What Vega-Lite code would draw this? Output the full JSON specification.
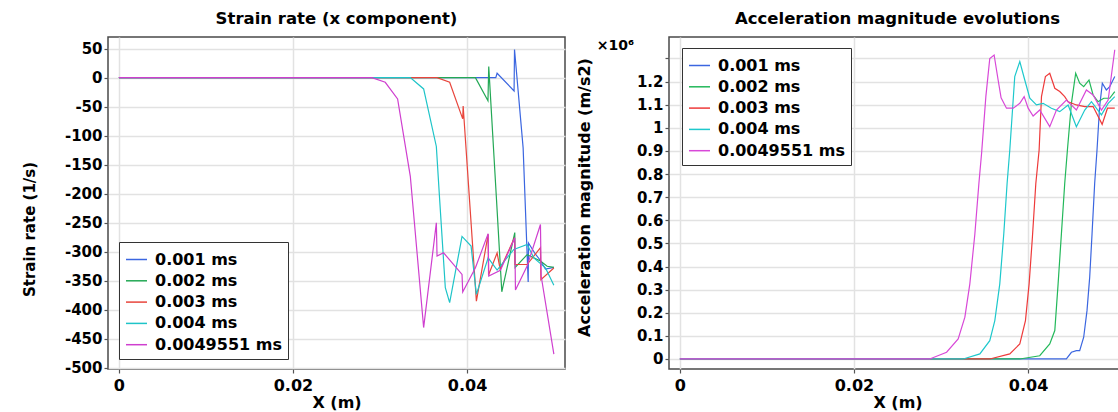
{
  "$schema": "https://vega.github.io/schema/vega-lite/v6.json",
  "background": "white",
  "padding": {"left": 21, "top": 9, "right": 0, "bottom": 0},
  "config": {
    "font": "DejaVu Sans",
    "view": {"stroke": "#4a4a4a", "strokeWidth": 1.5},
    "axis": {
      "labelFont": "DejaVu Sans", "labelFontWeight": "bold", "labelColor": "black",
      "titleFont": "DejaVu Sans", "titleFontWeight": "bold", "titleColor": "black",
      "gridColor": "#e2e2e2", "gridWidth": 1.5, "domain": false,
      "tickColor": "#555555", "tickSize": 4, "tickWidth": 1.2, "labelOverlap": false
    },
    "axisX": {"labelFontSize": 16, "labelPadding": 4, "titleFontSize": 16},
    "axisY": {"labelFontSize": 15, "labelPadding": 2},
    "title": {"font": "DejaVu Sans", "fontSize": 16.5, "fontWeight": "bold", "color": "black", "offset": 10, "baseline": "alphabetic"},
    "legend": {
      "labelFont": "DejaVu Sans", "labelFontWeight": "bold", "labelFontSize": 16, "labelColor": "black",
      "symbolType": "stroke", "symbolSize": 441, "symbolStrokeWidth": 1.5, "labelOffset": 7,
      "strokeColor": "#333333", "fillColor": "white", "padding": 6, "rowPadding": 1.3,
      "orient": "none", "title": null
    }
  },
  "datasets": {
    "strain": [
      {"t": "0.001 ms", "x": 0, "y": 0}, {"t": "0.001 ms", "x": 0.0433, "y": 0}, {"t": "0.001 ms", "x": 0.04345, "y": 7.5},
      {"t": "0.001 ms", "x": 0.0454, "y": -23}, {"t": "0.001 ms", "x": 0.04545, "y": 48.5}, {"t": "0.001 ms", "x": 0.04644, "y": -121},
      {"t": "0.001 ms", "x": 0.04702, "y": -352}, {"t": "0.001 ms", "x": 0.04706, "y": -285}, {"t": "0.001 ms", "x": 0.0478, "y": -303},
      {"t": "0.001 ms", "x": 0.04843, "y": -315}, {"t": "0.001 ms", "x": 0.049, "y": -330}, {"t": "0.001 ms", "x": 0.04997, "y": -327},

      {"t": "0.002 ms", "x": 0, "y": 0}, {"t": "0.002 ms", "x": 0.04096, "y": 0}, {"t": "0.002 ms", "x": 0.0424, "y": -40},
      {"t": "0.002 ms", "x": 0.04249, "y": 19}, {"t": "0.002 ms", "x": 0.04338, "y": -210}, {"t": "0.002 ms", "x": 0.04399, "y": -369},
      {"t": "0.002 ms", "x": 0.04548, "y": -267}, {"t": "0.002 ms", "x": 0.04552, "y": -327}, {"t": "0.002 ms", "x": 0.0469, "y": -305},
      {"t": "0.002 ms", "x": 0.04843, "y": -316}, {"t": "0.002 ms", "x": 0.0492, "y": -325}, {"t": "0.002 ms", "x": 0.04997, "y": -327},

      {"t": "0.003 ms", "x": 0, "y": 0}, {"t": "0.003 ms", "x": 0.03655, "y": 0}, {"t": "0.003 ms", "x": 0.038, "y": -8},
      {"t": "0.003 ms", "x": 0.0395, "y": -71}, {"t": "0.003 ms", "x": 0.03955, "y": -49}, {"t": "0.003 ms", "x": 0.04107, "y": -385},
      {"t": "0.003 ms", "x": 0.04242, "y": -270}, {"t": "0.003 ms", "x": 0.04247, "y": -340}, {"t": "0.003 ms", "x": 0.04345, "y": -302},
      {"t": "0.003 ms", "x": 0.0438, "y": -330}, {"t": "0.003 ms", "x": 0.04545, "y": -276}, {"t": "0.003 ms", "x": 0.0455, "y": -322},
      {"t": "0.003 ms", "x": 0.0469, "y": -322}, {"t": "0.003 ms", "x": 0.04843, "y": -293}, {"t": "0.003 ms", "x": 0.04848, "y": -348},
      {"t": "0.003 ms", "x": 0.04997, "y": -328},

      {"t": "0.004 ms", "x": 0, "y": 0}, {"t": "0.004 ms", "x": 0.03348, "y": 0}, {"t": "0.004 ms", "x": 0.03501, "y": -19.5},
      {"t": "0.004 ms", "x": 0.03647, "y": -118.6}, {"t": "0.004 ms", "x": 0.03685, "y": -210}, {"t": "0.004 ms", "x": 0.0375, "y": -362},
      {"t": "0.004 ms", "x": 0.038, "y": -387.6}, {"t": "0.004 ms", "x": 0.03942, "y": -273.6}, {"t": "0.004 ms", "x": 0.04046, "y": -290.3},
      {"t": "0.004 ms", "x": 0.04107, "y": -373.4}, {"t": "0.004 ms", "x": 0.04242, "y": -310.6}, {"t": "0.004 ms", "x": 0.04345, "y": -331.6},
      {"t": "0.004 ms", "x": 0.04537, "y": -296}, {"t": "0.004 ms", "x": 0.0469, "y": -287.5}, {"t": "0.004 ms", "x": 0.04767, "y": -310.6},
      {"t": "0.004 ms", "x": 0.049, "y": -327.6}, {"t": "0.004 ms", "x": 0.04997, "y": -357.9},

      {"t": "0.0049551 ms", "x": 0, "y": 0}, {"t": "0.0049551 ms", "x": 0.02907, "y": 0}, {"t": "0.0049551 ms", "x": 0.0306, "y": -8},
      {"t": "0.0049551 ms", "x": 0.03202, "y": -36.7}, {"t": "0.0049551 ms", "x": 0.03348, "y": -170}, {"t": "0.0049551 ms", "x": 0.03501, "y": -430.6},
      {"t": "0.0049551 ms", "x": 0.03647, "y": -250.2}, {"t": "0.0049551 ms", "x": 0.03655, "y": -307.5}, {"t": "0.0049551 ms", "x": 0.0373, "y": -301.8},
      {"t": "0.0049551 ms", "x": 0.03942, "y": -339}, {"t": "0.0049551 ms", "x": 0.0395, "y": -369.4}, {"t": "0.0049551 ms", "x": 0.04096, "y": -327.6},
      {"t": "0.0049551 ms", "x": 0.04242, "y": -268.8}, {"t": "0.0049551 ms", "x": 0.04249, "y": -341.8}, {"t": "0.0049551 ms", "x": 0.04383, "y": -332},
      {"t": "0.0049551 ms", "x": 0.04548, "y": -276}, {"t": "0.0049551 ms", "x": 0.04556, "y": -366}, {"t": "0.0049551 ms", "x": 0.0469, "y": -324.7},
      {"t": "0.0049551 ms", "x": 0.04843, "y": -253.1}, {"t": "0.0049551 ms", "x": 0.04851, "y": -341.8}, {"t": "0.0049551 ms", "x": 0.04997, "y": -476.5}
    ],
    "accel": [
      {"t": "0.001 ms", "x": 0, "y": 0}, {"t": "0.001 ms", "x": 0.0444, "y": 0}, {"t": "0.001 ms", "x": 0.04498, "y": 0.029},
      {"t": "0.001 ms", "x": 0.04555, "y": 0.036}, {"t": "0.001 ms", "x": 0.04593, "y": 0.036}, {"t": "0.001 ms", "x": 0.04639, "y": 0.094},
      {"t": "0.001 ms", "x": 0.04677, "y": 0.209}, {"t": "0.001 ms", "x": 0.04708, "y": 0.354}, {"t": "0.001 ms", "x": 0.04735, "y": 0.542},
      {"t": "0.001 ms", "x": 0.04765, "y": 0.759}, {"t": "0.001 ms", "x": 0.04792, "y": 0.904}, {"t": "0.001 ms", "x": 0.04822, "y": 1.092},
      {"t": "0.001 ms", "x": 0.04853, "y": 1.193}, {"t": "0.001 ms", "x": 0.04899, "y": 1.164}, {"t": "0.001 ms", "x": 0.04938, "y": 1.178},
      {"t": "0.001 ms", "x": 0.04996, "y": 1.222},

      {"t": "0.002 ms", "x": 0, "y": 0}, {"t": "0.002 ms", "x": 0.03905, "y": 0}, {"t": "0.002 ms", "x": 0.04134, "y": 0.014},
      {"t": "0.002 ms", "x": 0.04249, "y": 0.065}, {"t": "0.002 ms", "x": 0.04307, "y": 0.123}, {"t": "0.002 ms", "x": 0.04345, "y": 0.325},
      {"t": "0.002 ms", "x": 0.04383, "y": 0.542}, {"t": "0.002 ms", "x": 0.04421, "y": 0.759}, {"t": "0.002 ms", "x": 0.04452, "y": 0.904},
      {"t": "0.002 ms", "x": 0.04498, "y": 1.106}, {"t": "0.002 ms", "x": 0.04547, "y": 1.236}, {"t": "0.002 ms", "x": 0.04593, "y": 1.193},
      {"t": "0.002 ms", "x": 0.04639, "y": 1.178}, {"t": "0.002 ms", "x": 0.047, "y": 1.207}, {"t": "0.002 ms", "x": 0.04747, "y": 1.142},
      {"t": "0.002 ms", "x": 0.04804, "y": 1.113}, {"t": "0.002 ms", "x": 0.04869, "y": 1.128}, {"t": "0.002 ms", "x": 0.04938, "y": 1.128},
      {"t": "0.002 ms", "x": 0.04996, "y": 1.157},

      {"t": "0.003 ms", "x": 0, "y": 0}, {"t": "0.003 ms", "x": 0.03561, "y": 0}, {"t": "0.003 ms", "x": 0.0379, "y": 0.022},
      {"t": "0.003 ms", "x": 0.03905, "y": 0.065}, {"t": "0.003 ms", "x": 0.0397, "y": 0.166}, {"t": "0.003 ms", "x": 0.04012, "y": 0.325},
      {"t": "0.003 ms", "x": 0.0405, "y": 0.528}, {"t": "0.003 ms", "x": 0.04089, "y": 0.759}, {"t": "0.003 ms", "x": 0.04127, "y": 0.904},
      {"t": "0.003 ms", "x": 0.04154, "y": 1.135}, {"t": "0.003 ms", "x": 0.04199, "y": 1.222}, {"t": "0.003 ms", "x": 0.04249, "y": 1.236},
      {"t": "0.003 ms", "x": 0.04307, "y": 1.171}, {"t": "0.003 ms", "x": 0.04364, "y": 1.157}, {"t": "0.003 ms", "x": 0.04421, "y": 1.135},
      {"t": "0.003 ms", "x": 0.0446, "y": 1.113}, {"t": "0.003 ms", "x": 0.04555, "y": 1.099}, {"t": "0.003 ms", "x": 0.04651, "y": 1.092},
      {"t": "0.003 ms", "x": 0.04747, "y": 1.092}, {"t": "0.003 ms", "x": 0.04851, "y": 1.015}, {"t": "0.003 ms", "x": 0.04912, "y": 1.085},
      {"t": "0.003 ms", "x": 0.04996, "y": 1.085},

      {"t": "0.004 ms", "x": 0, "y": 0}, {"t": "0.004 ms", "x": 0.03255, "y": 0}, {"t": "0.004 ms", "x": 0.03446, "y": 0.022},
      {"t": "0.004 ms", "x": 0.0356, "y": 0.079}, {"t": "0.004 ms", "x": 0.03618, "y": 0.166}, {"t": "0.004 ms", "x": 0.03675, "y": 0.325},
      {"t": "0.004 ms", "x": 0.03721, "y": 0.542}, {"t": "0.004 ms", "x": 0.03759, "y": 0.759}, {"t": "0.004 ms", "x": 0.0379, "y": 0.904},
      {"t": "0.004 ms", "x": 0.03847, "y": 1.222}, {"t": "0.004 ms", "x": 0.03905, "y": 1.287}, {"t": "0.004 ms", "x": 0.03962, "y": 1.207},
      {"t": "0.004 ms", "x": 0.0402, "y": 1.128}, {"t": "0.004 ms", "x": 0.04096, "y": 1.099}, {"t": "0.004 ms", "x": 0.04173, "y": 1.106},
      {"t": "0.004 ms", "x": 0.04268, "y": 1.085}, {"t": "0.004 ms", "x": 0.04364, "y": 1.07}, {"t": "0.004 ms", "x": 0.0446, "y": 1.099},
      {"t": "0.004 ms", "x": 0.04555, "y": 1.005}, {"t": "0.004 ms", "x": 0.04651, "y": 1.077}, {"t": "0.004 ms", "x": 0.04728, "y": 1.113},
      {"t": "0.004 ms", "x": 0.04843, "y": 1.056}, {"t": "0.004 ms", "x": 0.0492, "y": 1.106}, {"t": "0.004 ms", "x": 0.04996, "y": 1.135},

      {"t": "0.0049551 ms", "x": 0, "y": 0}, {"t": "0.0049551 ms", "x": 0.0287, "y": 0}, {"t": "0.0049551 ms", "x": 0.03064, "y": 0.029},
      {"t": "0.0049551 ms", "x": 0.03197, "y": 0.087}, {"t": "0.0049551 ms", "x": 0.03274, "y": 0.181}, {"t": "0.0049551 ms", "x": 0.03331, "y": 0.325},
      {"t": "0.0049551 ms", "x": 0.03389, "y": 0.542}, {"t": "0.0049551 ms", "x": 0.03435, "y": 0.759}, {"t": "0.0049551 ms", "x": 0.03466, "y": 0.89},
      {"t": "0.0049551 ms", "x": 0.03515, "y": 1.135}, {"t": "0.0049551 ms", "x": 0.0356, "y": 1.3}, {"t": "0.0049551 ms", "x": 0.0361, "y": 1.315},
      {"t": "0.0049551 ms", "x": 0.03656, "y": 1.207}, {"t": "0.0049551 ms", "x": 0.0369, "y": 1.13}, {"t": "0.0049551 ms", "x": 0.03752, "y": 1.085},
      {"t": "0.0049551 ms", "x": 0.03829, "y": 1.085}, {"t": "0.0049551 ms", "x": 0.03905, "y": 1.106}, {"t": "0.0049551 ms", "x": 0.03955, "y": 1.135},
      {"t": "0.0049551 ms", "x": 0.04001, "y": 1.085}, {"t": "0.0049551 ms", "x": 0.04058, "y": 1.051}, {"t": "0.0049551 ms", "x": 0.04134, "y": 1.077},
      {"t": "0.0049551 ms", "x": 0.04249, "y": 1.005}, {"t": "0.0049551 ms", "x": 0.04326, "y": 1.077}, {"t": "0.0049551 ms", "x": 0.0444, "y": 1.12},
      {"t": "0.0049551 ms", "x": 0.04555, "y": 1.077}, {"t": "0.0049551 ms", "x": 0.0467, "y": 1.164}, {"t": "0.0049551 ms", "x": 0.04747, "y": 1.142},
      {"t": "0.0049551 ms", "x": 0.04843, "y": 1.077}, {"t": "0.0049551 ms", "x": 0.0492, "y": 1.12}, {"t": "0.0049551 ms", "x": 0.04996, "y": 1.338}
    ]
  },
  "bounds": "flush",
  "spacing": 104,
  "resolve": {
    "scale": {"x": "independent", "y": "independent", "color": "independent"},
    "legend": {"color": "independent"}
  },
  "hconcat": [
    {
      "width": 457,
      "height": 332,
      "title": {"text": "Strain rate (x component)"},
      "data": {"name": "strain"},
      "mark": {"type": "line", "strokeWidth": 1.2, "clip": true},
      "encoding": {
        "x": {
          "field": "x", "type": "quantitative",
          "scale": {"domain": [-0.00125, 0.05125], "nice": false, "zero": false},
          "axis": {"title": "X (m)", "values": [0, 0.02, 0.04], "format": "~g", "titleY": 33, "titleBaseline": "middle", "labelOverlap": false}
        },
        "y": {
          "field": "y", "type": "quantitative",
          "scale": {"domain": [-502, 70], "nice": false, "zero": false},
          "axis": {
            "title": "Strain rate (1/s)", "titleFontSize": 15, "labelOverlap": false,
            "values": [-500, -450, -400, -350, -300, -250, -200, -150, -100, -50, 0, 50],
            "labelExpr": "'' + datum.value",
            "titleX": -79, "titleY": 192, "titleAngle": -90, "titleBaseline": "middle", "titleAlign": "center"
          }
        },
        "color": {
          "field": "t", "type": "nominal",
          "scale": {"domain": ["0.001 ms", "0.002 ms", "0.003 ms", "0.004 ms", "0.0049551 ms"], "range": ["#3b66e0", "#23a855", "#e8453c", "#1ec4c8", "#cf3fcf"]},
          "legend": {"legendX": 11, "legendY": 205}
        }
      }
    },
    {
      "width": 457,
      "height": 332,
      "title": {"text": "Acceleration magnitude evolutions"},
      "layer": [
        {
          "data": {"name": "accel"},
          "mark": {"type": "line", "strokeWidth": 1.2, "clip": true},
          "encoding": {
            "x": {
              "field": "x", "type": "quantitative",
              "scale": {"domain": [-0.00125, 0.05125], "nice": false, "zero": false},
              "axis": {"title": "X (m)", "values": [0, 0.02, 0.04], "format": "~g", "titleY": 33, "titleBaseline": "middle", "labelOverlap": false}
            },
            "y": {
              "field": "y", "type": "quantitative",
              "scale": {"domain": [-0.0434, 1.393], "nice": false, "zero": false},
              "axis": {
                "title": "Acceleration magnitude (m/s2)", "titleFontSize": 16, "labelOverlap": false,
                "values": [0, 0.1, 0.2, 0.3, 0.4, 0.5, 0.6, 0.7, 0.8, 0.9, 1, 1.1, 1.2, 1.3],
                "labelExpr": "datum.value > 1.25 ? '' : format(datum.value, '.1~f')",
                "titleX": -85, "titleY": 160, "titleAngle": -90, "titleBaseline": "middle", "titleAlign": "center"
              }
            },
            "color": {
              "field": "t", "type": "nominal",
              "scale": {"domain": ["0.001 ms", "0.002 ms", "0.003 ms", "0.004 ms", "0.0049551 ms"], "range": ["#3b66e0", "#23b85a", "#ee3a3a", "#1ec8cc", "#d848d8"]},
              "legend": {"legendX": 13, "legendY": 11}
            }
          }
        },
        {
          "data": {"values": [{"label": "×10⁶"}]},
          "mark": {"type": "text", "font": "DejaVu Sans", "fontWeight": "bold", "fontSize": 14, "align": "center", "baseline": "middle", "color": "black"},
          "encoding": {
            "x": {
              "datum": -0.0074, "type": "quantitative",
              "scale": {"domain": [-0.00125, 0.05125], "nice": false, "zero": false},
              "axis": {"title": "X (m)", "values": [0, 0.02, 0.04], "format": "~g", "titleY": 33, "titleBaseline": "middle", "labelOverlap": false}
            },
            "y": {
              "datum": 1.355, "type": "quantitative",
              "scale": {"domain": [-0.0434, 1.393], "nice": false, "zero": false},
              "axis": {
                "title": "Acceleration magnitude (m/s2)", "titleFontSize": 16, "labelOverlap": false,
                "values": [0, 0.1, 0.2, 0.3, 0.4, 0.5, 0.6, 0.7, 0.8, 0.9, 1, 1.1, 1.2, 1.3],
                "labelExpr": "datum.value > 1.25 ? '' : format(datum.value, '.1~f')",
                "titleX": -85, "titleY": 160, "titleAngle": -90, "titleBaseline": "middle", "titleAlign": "center"
              }
            },
            "text": {"field": "label"}
          }
        }
      ]
    }
  ]
}
